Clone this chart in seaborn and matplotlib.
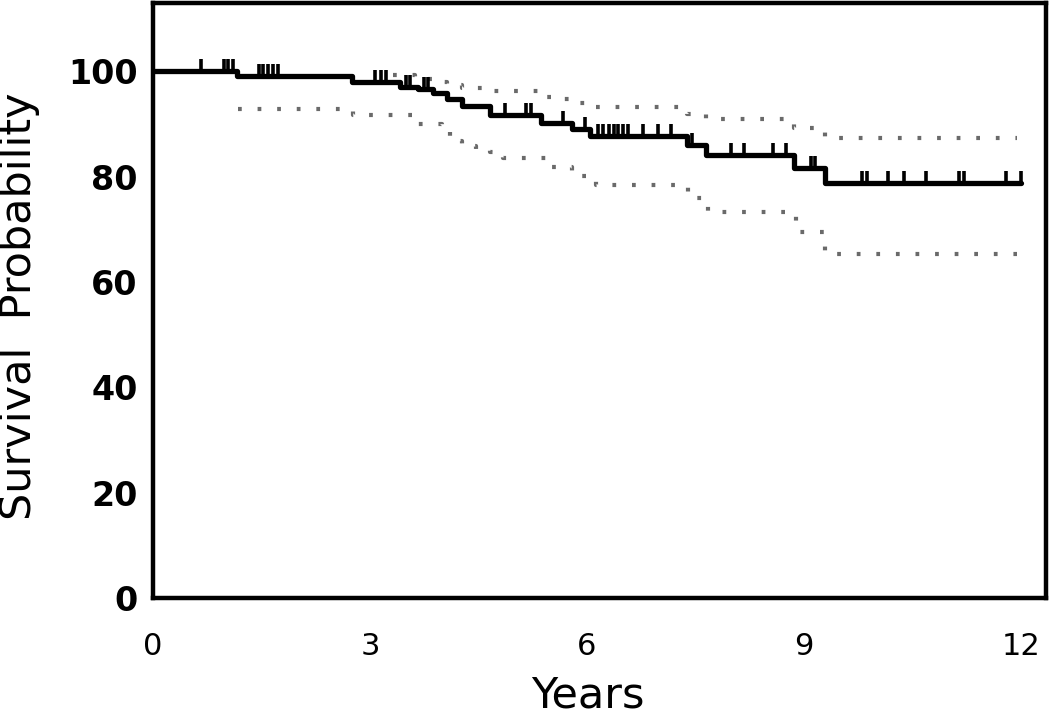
import numpy as np
import pandas as pd
import matplotlib
matplotlib.use("Agg")
import matplotlib.pyplot as plt
import seaborn as sns

# Kaplan-Meier estimate (step function)
km_time = [0, 1.16, 2.75, 3.42, 3.67, 3.87, 4.06, 4.27, 4.66, 5.37, 5.79, 6.05, 7.38, 7.65, 8.86, 9.3, 12.0]
km_surv = [100, 99.1, 98.0, 97.1, 96.7, 95.9, 94.8, 93.4, 91.8, 90.2, 89.0, 87.7, 86.1, 84.2, 81.7, 78.9, 78.9]

# censored observations (years)
censor_time = [0.66, 0.98, 1.04, 1.11, 1.47, 1.52, 1.59, 1.66, 1.73, 3.07, 3.16, 3.22,
               3.5, 3.55, 3.75, 3.8, 4.87, 5.16, 5.23, 5.67, 5.98, 6.16, 6.23, 6.3, 6.37,
               6.43, 6.5, 6.57, 6.78, 6.99, 7.17, 7.45, 7.99, 8.17, 8.58, 8.76, 9.1, 9.16,
               9.8, 9.87, 10.17, 10.38, 10.69, 11.14, 11.21, 11.8, 12.0]

# confidence band
upper_time = [3.32, 3.62, 3.87, 4.06, 4.27, 4.66, 5.37, 5.6, 5.79, 6.05, 7.38, 7.65, 8.86, 9.3, 11.95]
upper_surv = [99.3, 98.6, 98.0, 97.5, 96.9, 96.2, 95.2, 94.7, 94.0, 93.2, 91.9, 90.9, 89.2, 87.3, 87.3]
lower_time = [1.18, 2.77, 3.61, 3.99, 4.11, 4.28, 4.47, 4.66, 4.84, 5.43, 5.79, 6.13, 7.4, 7.68, 8.89, 9.3, 11.95]
lower_surv = [92.8, 91.7, 90.1, 88.6, 86.8, 85.8, 85.2, 84.7, 83.6, 81.9, 80.2, 78.4, 76.0, 73.3, 69.5, 65.4, 65.4]

x_ticks = [0, 3, 6, 9, 12]
y_ticks = [0, 20, 40, 60, 80, 100]

km = pd.DataFrame({"t": km_time, "s": km_surv})
up = pd.DataFrame({"t": upper_time, "s": upper_surv})
lo = pd.DataFrame({"t": lower_time, "s": lower_surv})
idx = np.searchsorted(km_time, censor_time, side="right") - 1
cens = pd.DataFrame({"t": censor_time, "s": np.array(km_surv)[idx]})

sns.set_style("white")
plt.rcParams["font.family"] = ["DejaVu Sans"]

fig = plt.figure(figsize=(10.5, 7.17), dpi=100)
ax = fig.add_axes([0.1457, 0.166, 0.8505, 0.8298])

dots = dict(color="#6a6a6a", linewidth=3.0, linestyle=(0, (0.9, 3.8)), drawstyle="steps-post")
sns.lineplot(data=up, x="t", y="s", ax=ax, **dots)
sns.lineplot(data=lo, x="t", y="s", ax=ax, **dots)
sns.lineplot(data=km, x="t", y="s", ax=ax, color="black", linewidth=3.8, drawstyle="steps-post")
sns.scatterplot(data=cens, x="t", y="s", ax=ax, marker=2, s=80, color="black", linewidth=2.6, zorder=5)

ax.set_xlim(0, 12.35)
ax.set_ylim(0, 113)
ax.set_xticks(x_ticks)
ax.set_yticks(y_ticks)
for sp in ax.spines.values():
    sp.set_linewidth(3.2)
    sp.set_color("black")

ax.tick_params(axis="x", direction="inout", length=21, width=2.6, pad=14, labelsize=22, colors="black")
ax.tick_params(axis="y", direction="out", length=10, width=2.6, pad=1, labelsize=24, colors="black")
for lab in ax.get_yticklabels():
    lab.set_fontweight("bold")

ax.set_xlabel("Years", fontsize=31, color="black")
ax.set_ylabel("Survival  Probability", fontsize=31, color="black")
ax.xaxis.set_label_coords(0.487, -0.128)
ax.yaxis.set_label_coords(-0.126, 0.49)

fig.savefig("out.png", dpi=100)
